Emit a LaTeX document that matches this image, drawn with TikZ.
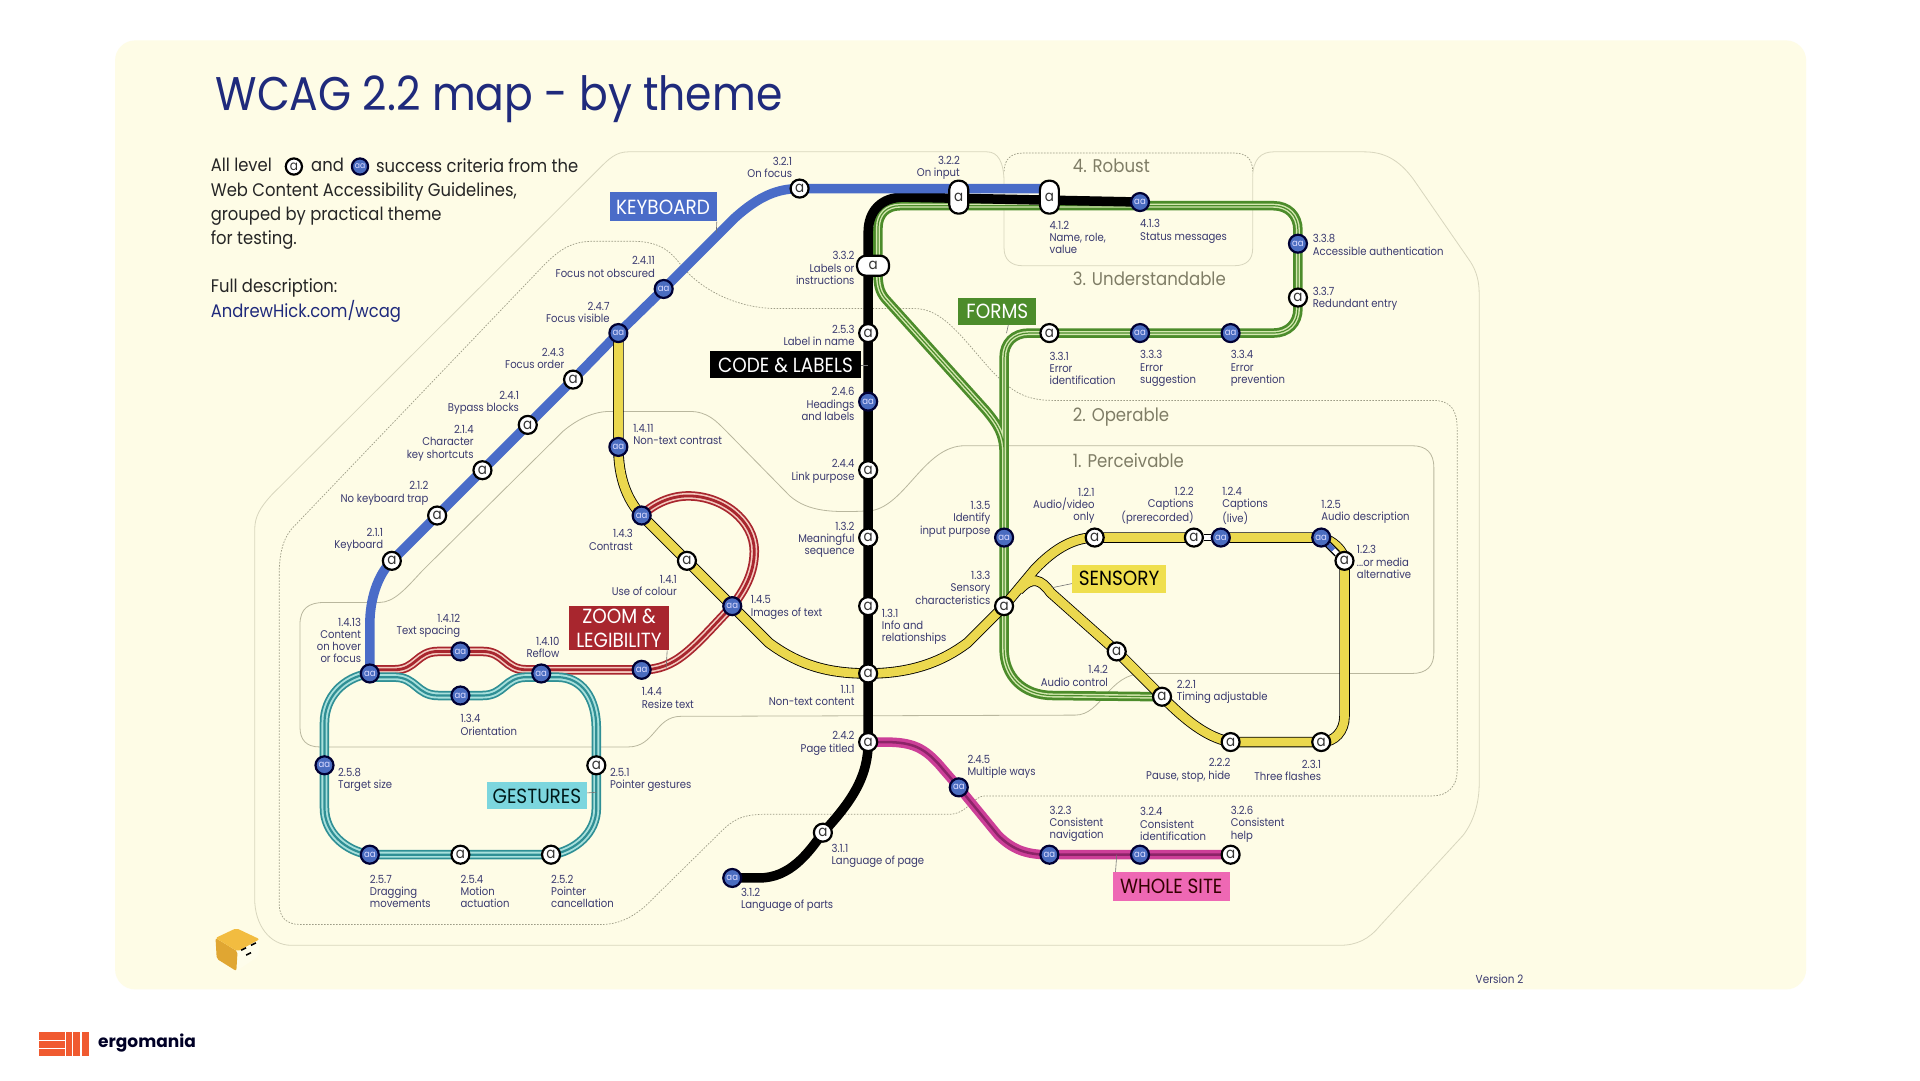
\documentclass[tikz,border=0pt]{standalone}
\usepackage{fontspec}
\setmainfont[FakeStretch=0.9]{Poppins}
\newfontfamily\logofont{Poppins}
\definecolor{panelcol}{HTML}{FEFCE6}
\definecolor{titlecol}{HTML}{1F2A7C}
\definecolor{labelcol}{HTML}{3A3A70}
\definecolor{headcol}{HTML}{7F7D66}
\definecolor{badgecol}{HTML}{4A6CC0}
\definecolor{bluecol}{HTML}{4A6CC8}
\definecolor{yellowcol}{HTML}{EBD84E}
\definecolor{greencol}{HTML}{4C8C2B}
\definecolor{palegreen}{HTML}{D5E8B0}
\definecolor{redcol}{HTML}{A8262E}
\definecolor{palered}{HTML}{F3C9BE}
\definecolor{tealcol}{HTML}{2F8F95}
\definecolor{paleteal}{HTML}{A8E0DC}
\definecolor{pinkcol}{HTML}{CC3F98}
\definecolor{darkpink}{HTML}{8C2468}
\definecolor{cyanbox}{HTML}{7CD6DE}
\definecolor{pinkbox}{HTML}{EE68B4}
\definecolor{sensorybox}{HTML}{EFDF4E}
\definecolor{regioncol}{HTML}{B9B79E}
\definecolor{outercol}{HTML}{D8D6BE}
\definecolor{logocol}{HTML}{F05A30}
\definecolor{cubetop}{HTML}{F2BC40}
\definecolor{cubeleft}{HTML}{E0A632}
\pgfdeclarelayer{regions}
\pgfdeclarelayer{lines}
\pgfsetlayers{regions,lines,main}
\tikzset{
  stationa/.style={circle,draw=black,fill=white,line width=2.2pt,minimum size=18pt,inner sep=0pt,font=\fontsize{15}{15}\selectfont,text=black!80},
  stationaa/.style={circle,draw=black!80!blue,fill=badgecol,line width=2.2pt,minimum size=18pt,inner sep=0pt,font=\fontsize{9.5}{10}\selectfont,text=white!85!blue},
  stationtall/.style={stationa,rounded corners=9pt,shape=rectangle,minimum width=19pt,minimum height=33pt},
  stationwide/.style={stationa,rounded corners=9pt,shape=rectangle,minimum width=32pt,minimum height=20pt},
  lblright/.style={anchor=east,align=right,inner sep=0pt,yshift=-1.2pt,text=labelcol,font=\fontsize{11.2}{12.3}\selectfont},
  lblleft/.style={anchor=west,align=left,inner sep=0pt,yshift=-1.2pt,text=labelcol,font=\fontsize{11.2}{12.3}\selectfont},
  headlabel/.style={anchor=west,inner sep=0pt,text=headcol,font=\fontsize{18.4}{20}\selectfont},
  introtext/.style={anchor=west,inner sep=0pt,text=black!85,font=\fontsize{18.2}{24.3}\selectfont},
  themebox/.style={inner sep=0pt,align=center,font=\fontsize{20.5}{24}\selectfont,text=white},
  boxtick/.style={draw=black!55,line width=.6pt},
  outerline/.style={draw=outercol,line width=.8pt},
  solidregion/.style={draw=regioncol,line width=.8pt},
  dashregion/.style={draw=regioncol!85!black,line width=.7pt,dash pattern=on 1.6pt off 1.4pt},
  lineblue/.style={draw=bluecol,line width=9.5pt},
  lineblack/.style={draw=black,line width=9.5pt},
  yellowedge/.style={draw=black,line width=10.5pt},
  yellowfill/.style={draw=yellowcol,line width=8.8pt},
  lineforms/.style={draw=greencol,line width=9.5pt,postaction={draw=palegreen,line width=4pt},postaction={draw=greencol,line width=1.2pt}},
  linezoom/.style={draw=redcol,line width=9.5pt,postaction={draw=palered,line width=6pt},postaction={draw=redcol,line width=2.8pt}},
  linegest/.style={draw=tealcol,line width=9.5pt,postaction={draw=paleteal,line width=6pt},postaction={draw=tealcol,line width=2.2pt}},
  linesite/.style={draw=pinkcol,line width=9.5pt,postaction={draw=darkpink,line width=2.5pt}}
}
\newcommand{\sensoryroute}{(n247.center) -- (n1411.center) .. controls (505,390) and (512,408) .. (n143.center) -- (n141.center) -- (n145.center) -- (628,525) .. controls (655,545) and (680,550) .. (n111.center) .. controls (745,550) and (770,540) .. (790,525) -- (n133.center) -- (845,465) .. controls (862,447) and (878,439) .. (n121.center) -- (n122.center) (n124.center) -- (n125.center) .. controls (1088,441) and (1098,450) .. (n123.center) -- (1098,585) .. controls (1098,597) and (1090,606) .. (n231.center) -- (n222.center) .. controls (985,602) and (968,588) .. (n221.center) -- (n142.center) -- (858,484) .. controls (850,473) and (843,470) .. (832,482)}
\begin{document}
\begin{tikzpicture}[x=1.2245pt,y=-1.2245pt]
\useasboundingbox (0,0) rectangle (1568,882);
\node[stationaa] (n1413) at (302,550) {aa};
\node[stationa] (n211) at (320,458) {a};
\node[stationa] (n212) at (357,421) {a};
\node[stationa] (n214) at (394,384) {a};
\node[stationa] (n241) at (431,347) {a};
\node[stationa] (n243) at (468,310) {a};
\node[stationaa] (n247) at (505,272) {aa};
\node[stationaa] (n2411) at (542,236) {aa};
\node[stationa] (n321) at (653,154) {a};
\node[stationtall] (n322) at (783,161) {a};
\node[stationtall] (n412) at (857,161) {a};
\node[stationaa] (n413) at (931,165) {aa};
\node[stationaa] (n338) at (1060,199) {aa};
\node[stationa] (n337) at (1060,243) {a};
\node[stationaa] (n334) at (1005,272) {aa};
\node[stationaa] (n333) at (931,272) {aa};
\node[stationa] (n331) at (857,272) {a};
\node[stationwide] (n332) at (713,217) {a};
\node[stationa] (n253) at (709,272) {a};
\node[stationaa] (n246) at (709,328) {aa};
\node[stationa] (n244) at (709,384) {a};
\node[stationa] (n132) at (709,439) {a};
\node[stationa] (n131) at (709,495) {a};
\node[stationa] (n111) at (709,550) {a};
\node[stationa] (n242) at (709,606) {a};
\node[stationa] (n311) at (672,680) {a};
\node[stationaa] (n312) at (598,717) {aa};
\node[stationaa] (n1411) at (505,365) {aa};
\node[stationaa] (n143) at (524,421) {aa};
\node[stationa] (n141) at (561,458) {a};
\node[stationaa] (n145) at (598,495) {aa};
\node[stationaa] (n1412) at (376,532) {aa};
\node[stationaa] (n1410) at (442,550) {aa};
\node[stationaa] (n144) at (524,547) {aa};
\node[stationaa] (n134) at (376,568) {aa};
\node[stationa] (n251) at (487,625) {a};
\node[stationa] (n252) at (450,698) {a};
\node[stationa] (n254) at (376,698) {a};
\node[stationaa] (n257) at (302,698) {aa};
\node[stationaa] (n258) at (265,625) {aa};
\node[stationaa] (n135) at (820,439) {aa};
\node[stationa] (n133) at (820,495) {a};
\node[stationa] (n121) at (894,439) {a};
\node[stationa] (n122) at (975,439) {a};
\node[stationaa] (n124) at (997,439) {aa};
\node[stationaa] (n125) at (1079,439) {aa};
\node[stationa] (n123) at (1098,458) {a};
\node[stationa] (n142) at (912,532) {a};
\node[stationa] (n221) at (949,569) {a};
\node[stationa] (n222) at (1005,606) {a};
\node[stationa] (n231) at (1079,606) {a};
\node[stationaa] (n245) at (783,643) {aa};
\node[stationaa] (n323) at (857,698) {aa};
\node[stationaa] (n324) at (931,698) {aa};
\node[stationa] (n326) at (1005,698) {a};
\coordinate (blueend) at (857,154);
\coordinate (blackturn) at (738,161);
\coordinate (linkmid) at (1089,449);
\begin{pgfonlayer}{regions}
\fill[white] (0,0) rectangle (1568,882);
\fill[panelcol,rounded corners=20pt] (94,33) rectangle (1475,808);
\draw[outerline] (820,150) .. controls (820,132) and (815,124) .. (806,124) -- (513,124) .. controls (503,124) and (497,130) .. (490,137) -- (222,404) .. controls (212,415) and (208,422) .. (208,433) -- (208,734) .. controls (208,755) and (220,772) .. (238,772) -- (1094,772) .. controls (1108,772) and (1118,767) .. (1127,756) -- (1195,682) .. controls (1204,670) and (1208,655) .. (1208,640) -- (1208,240) .. controls (1208,230) and (1206,222) .. (1201,214) -- (1154,146) .. controls (1142,130) and (1130,124) .. (1114,124) -- (1040,124) .. controls (1030,124) and (1023,130) .. (1023,145);
\draw[outerline] (820,150) -- (820,203) .. controls (820,212) and (826,217) .. (835,217) -- (1008,217) .. controls (1018,217) and (1023,212) .. (1023,203) -- (1023,145);
\draw[dashregion] (820,140) .. controls (820,130) and (826,125) .. (835,125) -- (1008,125) .. controls (1018,125) and (1023,130) .. (1023,140);
\draw[dashregion] (228,470) .. controls (228,455) and (230,440) .. (240,430) -- (439,222) .. controls (455,205) and (465,197) .. (485,197) -- (515,197) .. controls (535,197) and (545,202) .. (555,215) .. controls (570,235) and (600,252) .. (635,252) -- (747,252) .. controls (770,252) and (785,275) .. (810,303) .. controls (825,318) and (835,327) .. (860,327) -- (1170,327) .. controls (1185,327) and (1190,335) .. (1190,350) -- (1190,630) .. controls (1190,642) and (1182,650) .. (1170,650) -- (804,650) .. controls (795,650) and (790,665) .. (775,665) -- (625,665) .. controls (605,665) and (598,670) .. (588,680) -- (527,740) .. controls (515,750) and (505,755) .. (490,755) -- (245,755) .. controls (233,755) and (228,748) .. (228,738) -- cycle;
\draw[solidregion] (245,510) .. controls (245,497) and (252,492) .. (265,492) -- (310,492) .. controls (322,492) and (332,480) .. (345,466) -- (460,352) .. controls (472,342) and (485,336) .. (498,336) -- (563,336) .. controls (578,336) and (585,344) .. (593,352) -- (645,405) .. controls (660,418) and (680,419) .. (712,417) .. controls (740,412) and (755,364) .. (788,364) -- (1153,364) .. controls (1165,364) and (1171,370) .. (1171,382) -- (1171,533) .. controls (1171,544) and (1165,550) .. (1153,550) -- (934,550) .. controls (905,550) and (900,584) .. (878,584) -- (556,585) .. controls (535,585) and (535,610) .. (513,610) -- (261,610) .. controls (250,610) and (245,604) .. (245,594) -- cycle;
\end{pgfonlayer}
\begin{pgfonlayer}{lines}
\draw[lineforms] (n221.center) -- (860,568) .. controls (835,568) and (820,552) .. (820,530) -- (n133.center) -- (n135.center) -- (820,292) .. controls (820,280) and (828,272) .. (840,272) -- (n331.center) -- (n333.center) -- (n334.center) -- (1040,272) .. controls (1052,272) and (1060,264) .. (1060,252) -- (n337.center) -- (n338.center) -- (1060,188) .. controls (1060,176) and (1052,168) .. (1040,168) -- (735,168) .. controls (724,168) and (717,175) .. (717,186) -- (717,222) .. controls (717,232) and (718,238) .. (723,244) -- (805,335) .. controls (815,347) and (820,355) .. (820,370);
\draw[lineblack] (n312.center) -- (620,717) .. controls (645,717) and (660,697) .. (n311.center) .. controls (695,655) and (709,635) .. (n242.center) -- (n111.center) -- (n131.center) -- (n132.center) -- (n244.center) -- (n246.center) -- (n253.center) -- (709,190) .. controls (709,172) and (720,161) .. (blackturn) -- (n413.center);
\draw[lineblue] (n1413.center) -- (302,510) .. controls (302,490) and (308,470) .. (n211.center) -- (n212.center) -- (n214.center) -- (n241.center) -- (n243.center) -- (n247.center) -- (n2411.center) -- (600,178) .. controls (620,160) and (635,154) .. (n321.center) -- (blueend);
\draw[yellowedge] \sensoryroute;
\draw[yellowfill] \sensoryroute;
\draw[linezoom] (n1413.center) ++(0,-3) -- (322,547) .. controls (340,547) and (340,532) .. (358,532) -- (n1412.center) -- (394,532) .. controls (412,532) and (412,547) .. (430,547) -- (n144.center) .. controls (552,547) and (565,530) .. (n145.center) .. controls (608,482) and (616,468) .. (616,450) .. controls (616,425) and (590,405) .. (562,405) .. controls (547,405) and (533,412) .. (n143.center);
\draw[linegest] (n1413.center) ++(0,3) -- (322,553) .. controls (340,553) and (340,568) .. (358,568) -- (n134.center) -- (394,568) .. controls (412,568) and (412,553) .. (430,553) -- (455,553) .. controls (475,553) and (487,570) .. (487,595) -- (n251.center) -- (487,660) .. controls (487,680) and (470,695) .. (n252.center) -- (n254.center) -- (n257.center) .. controls (282,695) and (265,680) .. (265,660) -- (n258.center) -- (265,590) .. controls (265,570) and (280,553) .. (n1413.center);
\draw[linesite] (n242.center) -- (722,606) .. controls (745,606) and (755,610) .. (770,628) -- (n245.center) -- (815,682) .. controls (828,695) and (840,698) .. (n323.center) -- (n324.center) -- (n326.center);
\draw[black,line width=7.5pt] (n122) -- (n124);
\draw[white,line width=4.5pt] (n122) -- (n124);
\draw[black,line width=7.5pt] (n125.center) -- (n123);
\draw[white,line width=4.5pt] (n125) -- (n123);
\draw[bluecol,line width=4.5pt] (n125) -- (linkmid);
\end{pgfonlayer}
\node[anchor=west,inner sep=0pt,text=titlecol,font=\fontsize{47.2}{50}\selectfont] (title) at (176,81) {WCAG 2.2 map - by theme};
\node[introtext] (intro1a) at (172,135) {All level};
\node[stationa,scale=.9] (introa) at (240,136) {a};
\node[introtext] (intro1b) at (254,135) {and};
\node[stationaa,scale=.9] (introaa) at (294,136) {aa};
\node[introtext] (intro1c) at (307,135) {success criteria from the};
\node[introtext,align=left] (intro2) at (172,176.5) {Web Content Accessibility Guidelines,\\grouped by practical theme\\for testing.};
\node[introtext] (intro3) at (172,235) {Full description:};
\node[introtext,text=titlecol] (intro4) at (172,254) {AndrewHick.com/wcag};
\node[headlabel] (head4) at (876,135) {4. Robust};
\node[headlabel] (head3) at (876,228) {3. Understandable};
\node[headlabel] (head2) at (876,341) {2. Operable};
\node[headlabel] (head1) at (876,376) {1. Perceivable};
\node[lblright] (lab321) at (647,136) {3.2.1\\On focus};
\node[lblright] (lab322) at (784,136) {3.2.2\\On input};
\node[lblleft] (lab412) at (857,193) {4.1.2\\Name, role,\\value};
\node[lblleft] (lab413) at (931,188) {4.1.3\\Status messages};
\node[lblleft] (lab338) at (1072,199) {3.3.8\\Accessible authentication};
\node[lblleft] (lab337) at (1072,243) {3.3.7\\Redundant entry};
\node[lblright] (lab332) at (698,218) {3.3.2\\Labels or\\instructions};
\node[lblright] (lab253) at (698,273) {2.5.3\\Label in name};
\node[lblright] (lab246) at (698,329) {2.4.6\\Headings\\and labels};
\node[lblright] (lab244) at (698,384) {2.4.4\\Link purpose};
\node[lblright] (lab132) at (698,440) {1.3.2\\Meaningful\\sequence};
\node[lblleft] (lab131) at (720,511) {1.3.1\\Info and\\relationships};
\node[lblright] (lab111) at (698,567) {1.1.1\\Non-text content};
\node[lblright] (lab242) at (698,606) {2.4.2\\Page titled};
\node[lblleft] (lab331) at (857,300) {3.3.1\\Error\\identification};
\node[lblleft] (lab333) at (931,300) {3.3.3\\Error\\suggestion};
\node[lblleft] (lab334) at (1005,300) {3.3.4\\Error\\prevention};
\node[lblright] (lab135) at (809,423) {1.3.5\\Identify\\input purpose};
\node[lblright] (lab133) at (809,479) {1.3.3\\Sensory\\characteristics};
\node[lblright] (lab121) at (894,412) {1.2.1\\Audio/video\\only};
\node[lblright] (lab122) at (975,412) {1.2.2\\Captions\\(prerecorded)};
\node[lblleft] (lab124) at (998,412) {1.2.4\\Captions\\(live)};
\node[lblleft] (lab125) at (1079,417) {1.2.5\\Audio description};
\node[lblleft] (lab123) at (1108,458) {1.2.3\\...or media\\alternative};
\node[lblright] (lab142) at (905,551) {1.4.2\\Audio control};
\node[lblleft] (lab221) at (961,564) {2.2.1\\Timing adjustable};
\node[lblright] (lab222) at (1005,628) {2.2.2\\Pause, stop, hide};
\node[lblright] (lab231) at (1079,628) {2.3.1\\Three flashes};
\node[lblleft] (lab245) at (790,625) {2.4.5\\Multiple ways};
\node[lblleft] (lab323) at (857,672) {3.2.3\\Consistent\\navigation};
\node[lblleft] (lab324) at (931,672) {3.2.4\\Consistent\\identification};
\node[lblleft] (lab326) at (1005,672) {3.2.6\\Consistent\\help};
\node[lblleft] (lab311) at (679,698) {3.1.1\\Language of page};
\node[lblleft] (lab312) at (605,734) {3.1.2\\Language of parts};
\node[lblleft] (lab251) at (498,636) {2.5.1\\Pointer gestures};
\node[lblleft] (lab258) at (276,636) {2.5.8\\Target size};
\node[lblleft] (lab257) at (302,727) {2.5.7\\Dragging\\movements};
\node[lblleft] (lab254) at (376,727) {2.5.4\\Motion\\actuation};
\node[lblleft] (lab252) at (450,727) {2.5.2\\Pointer\\cancellation};
\node[lblleft] (lab134) at (376,591) {1.3.4\\Orientation};
\node[lblleft] (lab144) at (524,569) {1.4.4\\Resize text};
\node[lblright] (lab1410) at (457,528) {1.4.10\\Reflow};
\node[lblright] (lab1412) at (376,510) {1.4.12\\Text spacing};
\node[lblright] (lab1413) at (295,522) {1.4.13\\Content\\on hover\\or focus};
\node[lblleft] (lab145) at (613,495) {1.4.5\\Images of text};
\node[lblright] (lab141) at (553,477) {1.4.1\\Use of colour};
\node[lblright] (lab143) at (517,440) {1.4.3\\Contrast};
\node[lblleft] (lab1411) at (517,354) {1.4.11\\Non-text contrast};
\node[lblright] (lab211t) at (313,440) {2.1.1\\Keyboard};
\node[lblright] (lab212) at (350,402) {2.1.2\\No keyboard trap};
\node[lblright] (lab214) at (387,361) {2.1.4\\Character\\key shortcuts};
\node[lblright] (lab241) at (424,328) {2.4.1\\Bypass blocks};
\node[lblright] (lab243) at (461,292) {2.4.3\\Focus order};
\node[lblright] (lab247) at (498,254) {2.4.7\\Focus visible};
\node[lblright] (lab2411) at (535,217) {2.4.11\\Focus not obscured};
\node[themebox,fill=bluecol,minimum width=107pt,minimum height=29pt] (keyboard) at (541.5,169) {KEYBOARD};
\node[themebox,fill=black,minimum width=151pt,minimum height=27pt] (codelabels) at (641.5,298) {CODE \& LABELS};
\node[themebox,fill=greencol,minimum width=78pt,minimum height=27pt] (forms) at (814.5,254) {FORMS};
\node[themebox,fill=redcol,minimum width=100pt,minimum height=44pt] (zoomleg) at (505.5,513) {ZOOM \&\\LEGIBILITY};
\node[themebox,fill=sensorybox,text=black,minimum width=94pt,minimum height=28pt] (sensory) at (914,472.5) {SENSORY};
\node[themebox,fill=cyanbox,text=black!80!teal,minimum width=100pt,minimum height=27pt] (gestures) at (438.5,650) {GESTURES};
\node[themebox,fill=pinkbox,text=black!80!red,minimum width=117pt,minimum height=29pt] (wholesite) at (956.5,724) {WHOLE SITE};
\coordinate (keyboardtip) at (585,190);
\coordinate (codetip) at (709,298);
\coordinate (formstip) at (822,272);
\coordinate (zoomtip) at (544,546);
\coordinate (sensorytip) at (859,480);
\coordinate (gesturestip) at (487,647);
\coordinate (sitetip) at (912,698);
\draw[boxtick] (keyboard.south east) -- (keyboardtip);
\draw[boxtick] (codelabels.east) -- (codetip);
\draw[boxtick] ([xshift=11pt]forms.south) -- (formstip);
\draw[boxtick] ([xshift=-2pt]zoomleg.south east) -- (zoomtip);
\draw[boxtick] ([yshift=-5pt]sensory.west) -- (sensorytip);
\draw[boxtick] ([yshift=3pt]gestures.east) -- (gesturestip);
\draw[boxtick] ([xshift=3pt]wholesite.north west) -- (sitetip);
\node[anchor=west,inner sep=0pt,text=labelcol,font=\fontsize{11.6}{12}\selectfont] (version) at (1205,800) {Version 2};
\fill[panelcol!80!white,rounded corners=2pt] (194,777) -- (212,767) -- (211,781) -- (193,793) -- cycle;
\fill[cubeleft,rounded corners=2pt] (176,766) -- (194,777) -- (193,793) -- (177,783) -- cycle;
\fill[cubetop,rounded corners=2pt] (176,766) -- (193,758) -- (212,767) -- (194,777) -- cycle;
\draw[black,line width=1.6pt] (197,776) -- (201,774) (205,772) -- (209,770) (201,780) -- (205,778);
\fill[logocol] (32,843) rectangle (53,849);
\fill[logocol] (32,850) rectangle (53,856);
\fill[logocol] (32,857) rectangle (53,862);
\fill[logocol] (54,843) rectangle (58.5,862);
\fill[logocol] (60,843) rectangle (65,862);
\fill[logocol] (67,843) rectangle (72.5,862);
\node[anchor=west,inner sep=0pt,text=black!85!blue,font=\logofont\bfseries\fontsize{17}{20}\selectfont] (ergomania) at (80,852) {ergomania};
\end{tikzpicture}
\end{document}
